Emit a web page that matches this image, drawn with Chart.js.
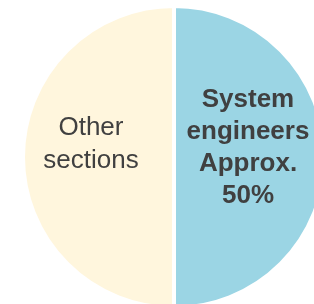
<!DOCTYPE html>
<html>
<head>
<meta charset="utf-8">
<script src="https://cdn.jsdelivr.net/npm/chart.js@4"></script>
<style>
  html, body { margin: 0; padding: 0; background: #fff; overflow: hidden; width: 314px; height: 304px; }
  #wrap { position: absolute; left: 21px; top: 4px; width: 306px; height: 306px; }
</style>
</head>
<body>
<div id="wrap"><canvas id="chart" width="306" height="306"></canvas></div>
<script>
// Share of staff by section
const categories = ["System engineers", "Other sections"];
const shares = [50, 50];
const sliceColors = ["#9bd5e4", "#fff6dd"];
// Text written inside each slice
const sliceText = [
  ["System", "engineers", "Approx.", "50%"],
  ["Other", "sections"]
];
const sliceBold = [true, false];

// Draw the slice texts inside the arcs
const sliceLabels = {
  id: "sliceLabels",
  afterDatasetsDraw(chart) {
    const ctx = chart.ctx;
    const arcs = chart.getDatasetMeta(0).data;
    const reach = [0.49, 0.55];
    const lift = [-2, -5.5];
    const lineHeight = [32.3, 33];
    ctx.save();
    ctx.fillStyle = "#404040";
    ctx.textAlign = "center";
    ctx.textBaseline = "alphabetic";
    arcs.forEach(function (arc, i) {
      const p = arc.getProps(["x", "y", "startAngle", "endAngle", "outerRadius"], true);
      const mid = (p.startAngle + p.endAngle) / 2;
      const cx = p.x + Math.cos(mid) * p.outerRadius * reach[i];
      const cy = p.y + Math.sin(mid) * p.outerRadius * reach[i] + lift[i];
      const lines = sliceText[i];
      ctx.font = (sliceBold[i] ? "bold " : "") + "26px 'Liberation Sans', Arial, sans-serif";
      lines.forEach(function (line, j) {
        const y = cy - (lines.length - 1) / 2 * lineHeight[i] + j * lineHeight[i];
        ctx.fillText(line, cx, y);
      });
    });
    ctx.restore();
  }
};

new Chart(document.getElementById("chart").getContext("2d"), {
  type: "pie",
  data: {
    labels: categories,
    datasets: [
      {
        data: shares,
        backgroundColor: sliceColors,
        borderColor: "#ffffff",
        borderWidth: 4
      }
    ]
  },
  options: {
    responsive: false,
    animation: false,
    layout: { padding: 0 },
    plugins: {
      legend: { display: false },
      tooltip: { enabled: false },
      title: { display: false }
    }
  },
  plugins: [sliceLabels]
});
</script>
</body>
</html>
